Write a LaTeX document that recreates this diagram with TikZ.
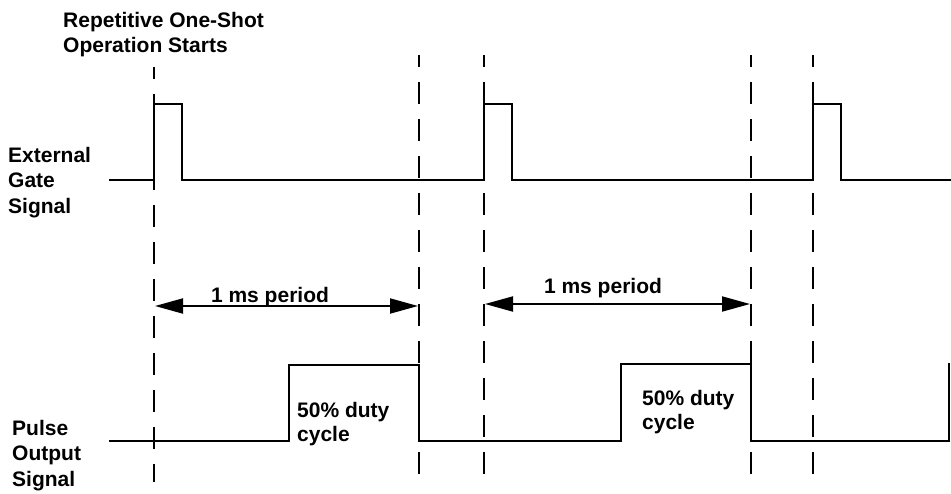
\documentclass[tikz,border=0pt]{standalone}
\usepackage{fontspec}
\setmainfont{Liberation Sans}
\usetikzlibrary{arrows.meta}
\begin{document}
\begin{tikzpicture}[x=1pt,y=-1pt,
  lbl/.style={font=\bfseries\fontsize{21}{25.5}\selectfont, inner sep=0pt, align=left, anchor=north west},
  plbl/.style={font=\bfseries\fontsize{21}{24}\selectfont, inner sep=0pt, align=left, anchor=north west},
  sig/.style={line width=1.9pt, line join=miter},
  guide/.style={line width=1.9pt, dash pattern=on 22pt off 15pt, dash phase=10pt},
  period/.style={line width=1.9pt, {Triangle[length=28pt,width=15pt]}-{Triangle[length=28pt,width=15pt]}}
]
\useasboundingbox (0,0) rectangle (951,493);

% dashed guide lines
\coordinate (t1) at (154,67);  \coordinate (b1) at (154,482);
\coordinate (t2) at (419,55);  \coordinate (b2) at (419,482);
\coordinate (t3) at (484,55);  \coordinate (b3) at (484,482);
\coordinate (t4) at (751,55);  \coordinate (b4) at (751,482);
\coordinate (t5) at (813,55);  \coordinate (b5) at (813,482);
\foreach \i in {1,...,5} \draw[guide] (t\i) -- (b\i);

% external gate signal
\draw[sig] (109,180) -- (154,180) -- (154,104) -- (182,104) -- (182,180)
  -- (484,180) -- (484,104) -- (512,104) -- (512,180)
  -- (813,180) -- (813,104) -- (841,104) -- (841,180) -- (951,180);

% pulse output signal
\draw[sig] (109,441) -- (289,441) -- (289,365) -- (419,365) -- (419,441)
  -- (621,441) -- (621,364) -- (751,364) -- (751,441)
  -- (949,441) -- (949,363);

% period arrows
\coordinate (a1l) at (155,306); \coordinate (a1r) at (418,306);
\coordinate (a2l) at (485,304); \coordinate (a2r) at (750,304);
\draw[period] (a1l) -- (a1r);
\draw[period] (a2l) -- (a2r);

% labels
\node[lbl] (top) at (63,12) {Repetitive One-Shot\\Operation Starts};
\node[lbl] (ext) at (8,147) {External\\Gate\\Signal};
\node[lbl] (pul) at (12,420) {Pulse\\Output\\Signal};
\node[font=\bfseries\fontsize{21}{25}\selectfont, inner sep=0pt, anchor=base] (p1) at (270,302) {1 ms period};
\node[font=\bfseries\fontsize{21}{25}\selectfont, inner sep=0pt, anchor=base] (p2) at (603,293) {1 ms period};
\node[plbl] (d1) at (297,402) {50\% duty\\cycle};
\node[plbl] (d2) at (642,390) {50\% duty\\cycle};
\end{tikzpicture}
\end{document}
